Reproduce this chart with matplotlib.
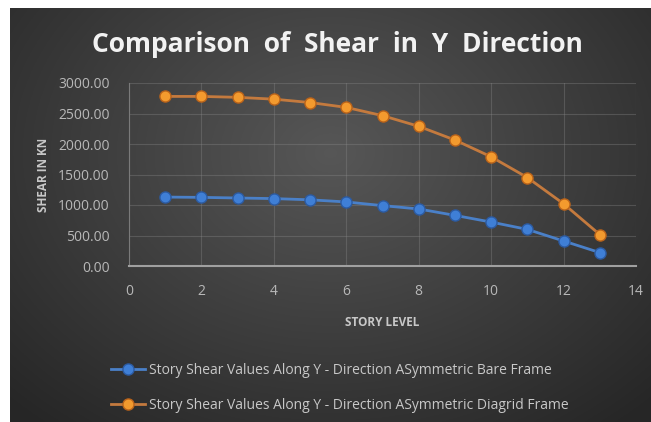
import matplotlib
matplotlib.use("Agg")
import matplotlib.pyplot as plt
import numpy as np

## Data ---------------------------------------------

story = [1, 2, 3, 4, 5, 6, 7, 8, 9, 10, 11, 12, 13]
bare_frame = [1130, 1125, 1115, 1105, 1085, 1050, 990, 935, 830, 720, 600, 410, 220]
diagrid_frame = [2780, 2780, 2765, 2735, 2680, 2600, 2465, 2290, 2065, 1790, 1450, 1020, 515]

labels = ["Story Shear Values Along Y - Direction ASymmetric Bare Frame",
          "Story Shear Values Along Y - Direction ASymmetric Diagrid Frame"]
yticks = [0, 500, 1000, 1500, 2000, 2500, 3000]
xticks = [0, 2, 4, 6, 8, 10, 12, 14]

plt.rcParams['font.family'] = ['Open Sans', 'DejaVu Sans']

W, H = 651, 422
fig = plt.figure(figsize=(W / 100, H / 100), dpi=100)
fig.patch.set_facecolor("white")

## Background ---------------------------------------

bg = fig.add_axes([10 / W, 0, 1 - 10 / W, 1 - 8 / H])
bg.set_axis_off()
yy, xx = np.mgrid[0:1:300j, 0:1:450j]
r = np.sqrt(((xx - 0.5) / 0.75) ** 2 + ((yy - 0.35) / 0.9) ** 2)
shade = np.clip(0.34 - 0.2 * r, 0.15, 0.34)
bg.imshow(np.dstack([shade] * 3), aspect="auto", extent=[0, 1, 0, 1], origin="upper")

## Main ---------------------------------------------

ax = fig.add_axes([129 / W, 1 - 266 / H, (636 - 129) / W, (266 - 83) / H])
ax.set_facecolor("none")

ax.plot(story, bare_frame, color="#4a80c8", lw=2, marker="o", ms=8,
        mfc="#3f7fd6", mec="#2c5aa0", mew=1, label=labels[0], zorder=3)
ax.plot(story, diagrid_frame, color="#c47a3e", lw=2, marker="o", ms=8,
        mfc="#f39a2e", mec="#b8621a", mew=1, label=labels[1], zorder=3)

ax.set_xlim(0, 14)
ax.set_ylim(0, 3000)
ax.set_xticks(xticks)
ax.set_yticks(yticks)
ax.set_yticklabels([f"{v:.2f}" for v in yticks])
ax.grid(True, color="#8a8a8a", alpha=0.35, lw=0.8)
ax.tick_params(colors="#b8b8b8", labelsize=10, length=0)
ax.tick_params(axis="y", pad=14)
ax.tick_params(axis="x", pad=13)
for s in ["top", "right"]:
    ax.spines[s].set_visible(False)
ax.spines["left"].set_color("#7a7a7a")
ax.spines["bottom"].set_color("#a0a0a0")
ax.spines["bottom"].set_linewidth(1.5)

ax.set_xlabel("STORY LEVEL", color="#c8c8c8", fontsize=8.5, fontweight="bold", labelpad=12)
ax.set_ylabel("SHEAR IN KN", color="#c8c8c8", fontsize=8.5, fontweight="bold", labelpad=6)

fig.text(337 / W, 1 - 44 / H, "Comparison  of  Shear  in  Y  Direction", color="#f2f2f2",
         fontsize=19, fontweight="bold", ha="center", va="center")

leg = fig.legend(loc="upper left", bbox_to_anchor=(98 / W, 1 - 350 / H), frameon=False,
                 fontsize=10, labelcolor="#c8c8c8", handlelength=2.5, handletextpad=0.3,
                 labelspacing=1.5)

fig.savefig("out.png", dpi=100, facecolor=fig.get_facecolor())
